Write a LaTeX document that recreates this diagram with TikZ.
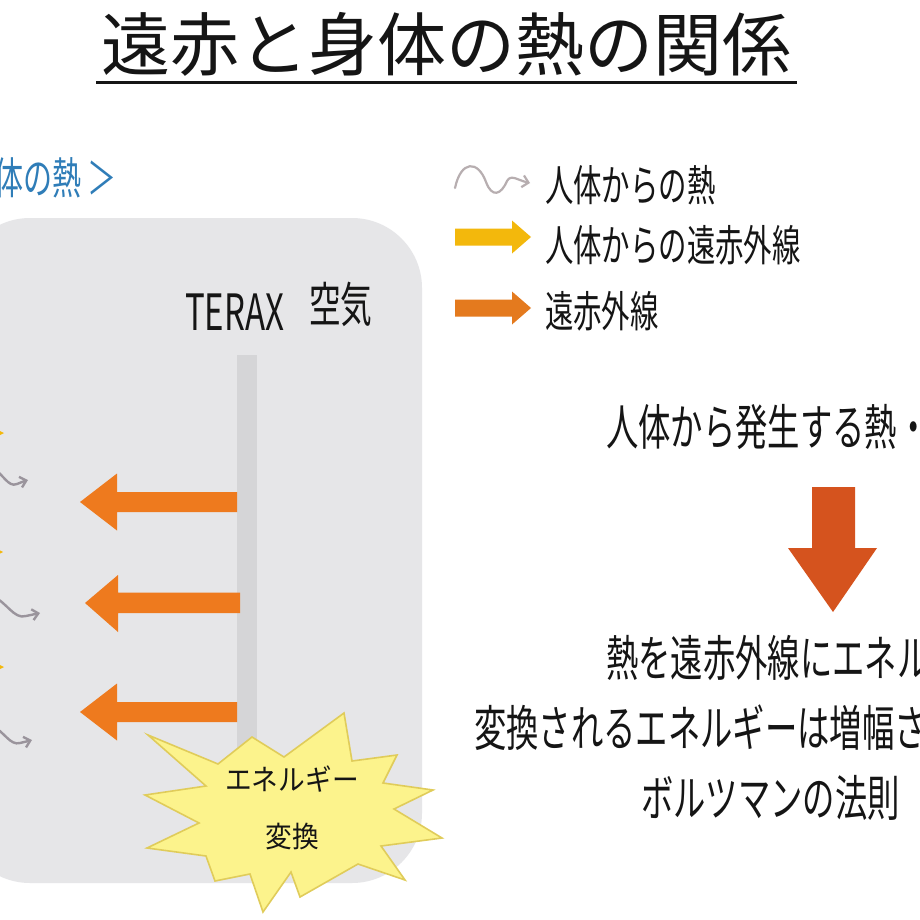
\documentclass[tikz,border=0pt]{standalone}
\usepackage{fontspec}
\setmainfont{Noto Sans CJK JP}
\newfontfamily\jpn[FakeStretch=0.66]{Noto Sans CJK JP}
\newfontfamily\jpm[FakeStretch=0.92]{Noto Sans CJK JP}
\newfontfamily\latn[FakeStretch=0.66]{Noto Sans CJK JP}
\newfontfamily\jpt{Noto Sans CJK JP}
\usetikzlibrary{arrows.meta}
\definecolor{boxgray}{HTML}{E6E6E8}
\definecolor{bargray}{HTML}{D5D5D7}
\definecolor{arrorange}{HTML}{EE7A1E}
\definecolor{legorange}{HTML}{E47A1E}
\definecolor{arryellow}{HTML}{F3B80C}
\definecolor{downred}{HTML}{D5531E}
\definecolor{wavegray}{HTML}{9A949C}
\definecolor{legwave}{HTML}{B7AEB0}
\definecolor{subblue}{HTML}{2F7DB8}
\definecolor{starfill}{HTML}{FCF38C}
\definecolor{starline}{HTML}{E0CC5A}
\definecolor{inkc}{HTML}{151515}
\begin{document}
\begin{tikzpicture}[x=1pt,y=-1pt,
  txt/.style={inner sep=0pt, text=inkc, anchor=west},
  legtxt/.style={txt, font=\jpn\fontsize{43}{50}\selectfont},
  bigtxt/.style={txt, font=\jpn\fontsize{49}{56}\selectfont},
  wave/.style={draw=wavegray, line width=2.4pt, line cap=round, -{Straight Barb[length=6pt,width=11pt]}},
  bigarr/.style={fill=arrorange},
  burst/.style={fill=starfill, draw=starline, line width=1.6pt, line join=miter}
]
\useasboundingbox (0,0) rectangle (920,920);
\fill[white] (0,0) rectangle (920,920);

% title
\node[inner sep=0pt, text=inkc, font=\jpt\fontsize{69}{80}\selectfont] (title) at (446,44) {遠赤と身体の熱の関係};
\draw[line width=3pt, inkc] (96,83) -- (797,83);

% subtitle (cut at left)
\node[txt, text=subblue, font=\jpn\fontsize{44}{50}\selectfont] (sub) at (-6,178) {体の熱 ＞};

% gray panel
\fill[boxgray, rounded corners=70pt] (-40,218) rectangle (422,883);

% TERAX wall
\fill[bargray] (237,355) rectangle (257,800);
\node[txt, font=\latn\fontsize{50}{56}\selectfont] (terax) at (185,312) {TERAX};
\node[txt, font=\jpn\fontsize{48}{54}\selectfont] (air) at (309,304) {空気};

% orange arrows (far infrared, pointing left)
\fill[bigarr] (237,492) -- (117,492) -- (117,473.5) -- (80,502) -- (117,530.5) -- (117,512) -- (237,512) -- cycle;
\fill[bigarr] (240,592.5) -- (118,592.5) -- (118,575) -- (85,603) -- (118,632) -- (118,613) -- (240,613) -- cycle;
\fill[bigarr] (237,702) -- (117,702) -- (117,683.5) -- (80,712) -- (117,740.5) -- (117,722) -- (237,722) -- cycle;

% yellow arrow tips at left edge
\fill[arryellow] (-40,428) -- (-30,428) -- (-30,416) -- (4,433) -- (-30,450) -- (-30,438) -- (-40,438) -- cycle;
\fill[arryellow] (-40,547) -- (-30,547) -- (-30,535) -- (3,552) -- (-30,569) -- (-30,557) -- (-40,557) -- cycle;
\fill[arryellow] (-40,662) -- (-30,662) -- (-30,650) -- (4,667) -- (-30,684) -- (-30,672) -- (-40,672) -- cycle;

% gray heat waves
\coordinate (w1s) at (-8,468); \coordinate (w1e) at (28,480);
\coordinate (w2s) at (-8,596); \coordinate (w2e) at (40,613);
\coordinate (w3s) at (-8,726); \coordinate (w3e) at (32,740);
\draw[wave] (w1s) .. controls (3,473) and (8,488) .. (17,484) .. controls (21,482) .. (w1e);
\draw[wave] (w2s) .. controls (6,601) and (14,620) .. (26,616) .. controls (31,615) .. (w2e);
\draw[wave] (w3s) .. controls (4,731) and (10,746) .. (20,743) .. controls (25,742) .. (w3e);

% starburst
\draw[burst] (148,735) -- (218,764) -- (252,737) -- (284,757) -- (344,713) -- (352,761)
  -- (397,755) -- (383,783) -- (433,790) -- (394,809) -- (442,838) -- (381,846)
  -- (405,880) -- (358,864) -- (300,897) -- (291,872) -- (263,912) -- (250,874)
  -- (215,881) -- (206,856) -- (147,848) -- (199,823) -- (145,795) -- (206,786) -- cycle;
\node[align=center, text=inkc, inner sep=0pt, font=\jpm\fontsize{29}{57}\selectfont] (startext) at (292,808) {エネルギー\\変換};

% legend
\coordinate (lw1) at (455,188); \coordinate (lw2) at (530,183);
\draw[draw=legwave, line width=2.2pt, line cap=round, -{Straight Barb[length=6pt,width=12pt]}]
  (lw1) .. controls (461,160) and (478,160) .. (486,182) .. controls (492,198) and (501,195) .. (507,181) .. controls (511,174) and (517,180) .. (lw2);
\node[legtxt] (leg1) at (545,185) {人体からの熱};
\fill[arryellow] (455,228.5) -- (512,228.5) -- (512,220.5) -- (531,237) -- (512,253.5) -- (512,245.5) -- (455,245.5) -- cycle;
\node[legtxt] (leg2) at (545,245) {人体からの遠赤外線};
\fill[legorange] (455,299.5) -- (512,299.5) -- (512,291.5) -- (531,308) -- (512,324.5) -- (512,316.5) -- (455,316.5) -- cycle;
\node[legtxt] (leg3) at (545,311) {遠赤外線};

% right explanation
\node[bigtxt] (r1) at (606,427) {人体から発生する熱・};
\fill[downred] (812,487) -- (855,487) -- (855,548) -- (877,548) -- (833,612) -- (788,548) -- (812,548) -- cycle;
\node[bigtxt] (r2) at (606,658) {熱を遠赤外線にエネル};
\node[bigtxt] (r3) at (474,728) {変換されるエネルギーは増幅さ};
\node[bigtxt] (r4) at (641,798) {ボルツマンの法則};
\end{tikzpicture}
\end{document}
